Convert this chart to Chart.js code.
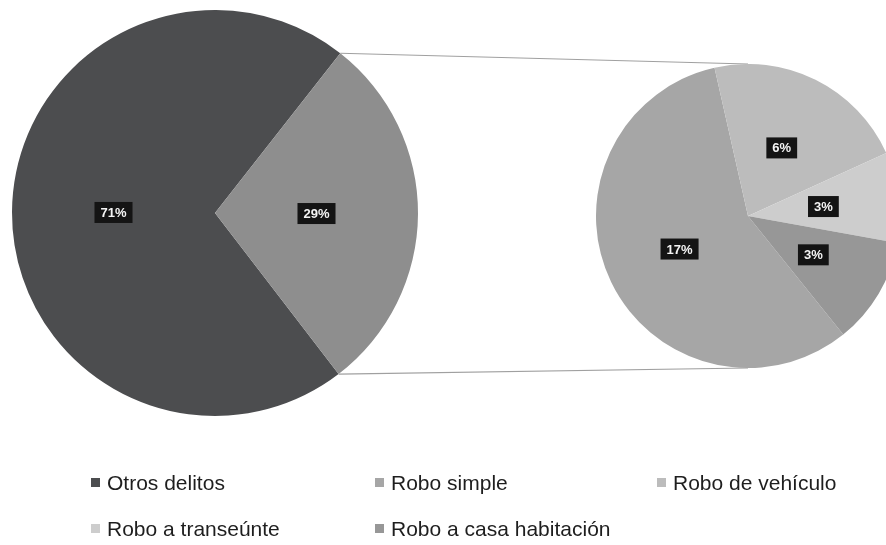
<!DOCTYPE html>
<html>
<head>
<meta charset="utf-8">
<script src="https://cdn.jsdelivr.net/npm/chart.js@4/dist/chart.umd.min.js"></script>
<style>
  html, body { margin: 0; padding: 0; background: #fff; }
  body { width: 886px; height: 545px; position: relative; overflow: hidden; font-family: "Liberation Sans", Arial, sans-serif; }
  #mainPie { position: absolute; left: 0; top: 0; }
  #subPie  { position: absolute; left: 596px; top: 64px; }
  .legend-item { position: absolute; display: flex; align-items: center; font-size: 21px; color: #1e1e1e; white-space: nowrap; line-height: 1; }
  .legend-item span.box { width: 9px; height: 9px; margin-right: 7px; display: inline-block; }
</style>
</head>
<body>
<canvas id="mainPie" width="886" height="545"></canvas>
<canvas id="subPie" width="304" height="304"></canvas>
<div id="legend"></div>
<script>
// primary pie
const primaryLabels = ['Otros delitos', 'Robos'];
const primaryValues = [71, 29];
const primaryColors = ['#4c4d4f', '#8e8e8e'];

// secondary pie (breakdown of the 29%)
const secondaryLabels = ['Robo simple', 'Robo de vehículo', 'Robo a transeúnte', 'Robo a casa habitación'];
const secondaryValues = [16.6, 6.3, 2.8, 3.3];
const secondaryColors = ['#a6a6a6', '#bcbcbc', '#cdcdcd', '#979797'];

// legend order as in the original
const legendLabels = [primaryLabels[0], ...secondaryLabels];
const legendColors = [primaryColors[0], ...secondaryColors];

const boxLabels = {
    id: 'boxLabels',
    afterDatasetsDraw(chart) {
        const ctx = chart.ctx;
        const meta = chart.getDatasetMeta(0);
        const values = chart.data.datasets[0].data;
        ctx.save();
        ctx.font = 'bold 13px "Liberation Sans", Arial, sans-serif';
        ctx.textAlign = 'center';
        ctx.textBaseline = 'middle';
        meta.data.forEach((arc, i) => {
            const pos = arc.tooltipPosition();
            const text = Math.round(values[i]) + '%';
            const w = ctx.measureText(text).width + 12;
            const h = 21;
            ctx.fillStyle = '#141414';
            ctx.fillRect(pos.x - w / 2, pos.y - h / 2, w, h);
            ctx.fillStyle = '#f4f4f4';
            ctx.fillText(text, pos.x, pos.y + 1);
        });
        ctx.restore();
    }
};

const subChart = new Chart(document.getElementById('subPie'), {
    type: 'pie',
    data: {
        labels: secondaryLabels,
        datasets: [{
            data: secondaryValues,
            backgroundColor: secondaryColors,
            borderWidth: 0,
        }],
    },
    options: {
        responsive: false,
        animation: false,
        rotation: 141.2,
        plugins: { legend: { display: false }, tooltip: { enabled: false } },
    },
    plugins: [boxLabels],
});

// lines joining the 29% slice to the top and bottom of the secondary pie
const connectors = {
    id: 'connectors',
    afterDraw(chart) {
        const arc = chart.getDatasetMeta(0).data[1];
        const sub = subChart.getDatasetMeta(0).data[0];
        const subCanvas = subChart.canvas;
        const ox = subCanvas.offsetLeft, oy = subCanvas.offsetTop;
        const r = arc.outerRadius;
        const p1 = { x: arc.x + r * Math.cos(arc.startAngle), y: arc.y + r * Math.sin(arc.startAngle) };
        const p2 = { x: arc.x + r * Math.cos(arc.endAngle), y: arc.y + r * Math.sin(arc.endAngle) };
        const top = { x: ox + sub.x, y: oy + sub.y - sub.outerRadius };
        const bottom = { x: ox + sub.x, y: oy + sub.y + sub.outerRadius };
        const ctx = chart.ctx;
        ctx.save();
        ctx.strokeStyle = '#a0a0a0';
        ctx.lineWidth = 1.2;
        ctx.beginPath();
        ctx.moveTo(p1.x, p1.y);
        ctx.lineTo(top.x, top.y);
        ctx.moveTo(p2.x, p2.y);
        ctx.lineTo(bottom.x, bottom.y);
        ctx.stroke();
        ctx.restore();
    }
};

new Chart(document.getElementById('mainPie'), {
    type: 'pie',
    data: {
        labels: primaryLabels,
        datasets: [{
            data: primaryValues,
            backgroundColor: primaryColors,
            borderWidth: 0,
        }],
    },
    options: {
        responsive: false,
        animation: false,
        rotation: 142.5,
        layout: { padding: { left: 12, top: 10, right: 468, bottom: 129 } },
        plugins: { legend: { display: false }, tooltip: { enabled: false } },
    },
    plugins: [boxLabels, connectors],
});

// legend
const legendPos = [[91, 482], [375, 482], [657, 482], [91, 528], [375, 528]];
const legendEl = document.getElementById('legend');
legendLabels.forEach((label, i) => {
    const item = document.createElement('div');
    item.className = 'legend-item';
    item.style.left = legendPos[i][0] + 'px';
    item.style.top = (legendPos[i][1] - 10) + 'px';
    const box = document.createElement('span');
    box.className = 'box';
    box.style.background = legendColors[i];
    item.appendChild(box);
    item.appendChild(document.createTextNode(label));
    legendEl.appendChild(item);
});
</script>
</body>
</html>
